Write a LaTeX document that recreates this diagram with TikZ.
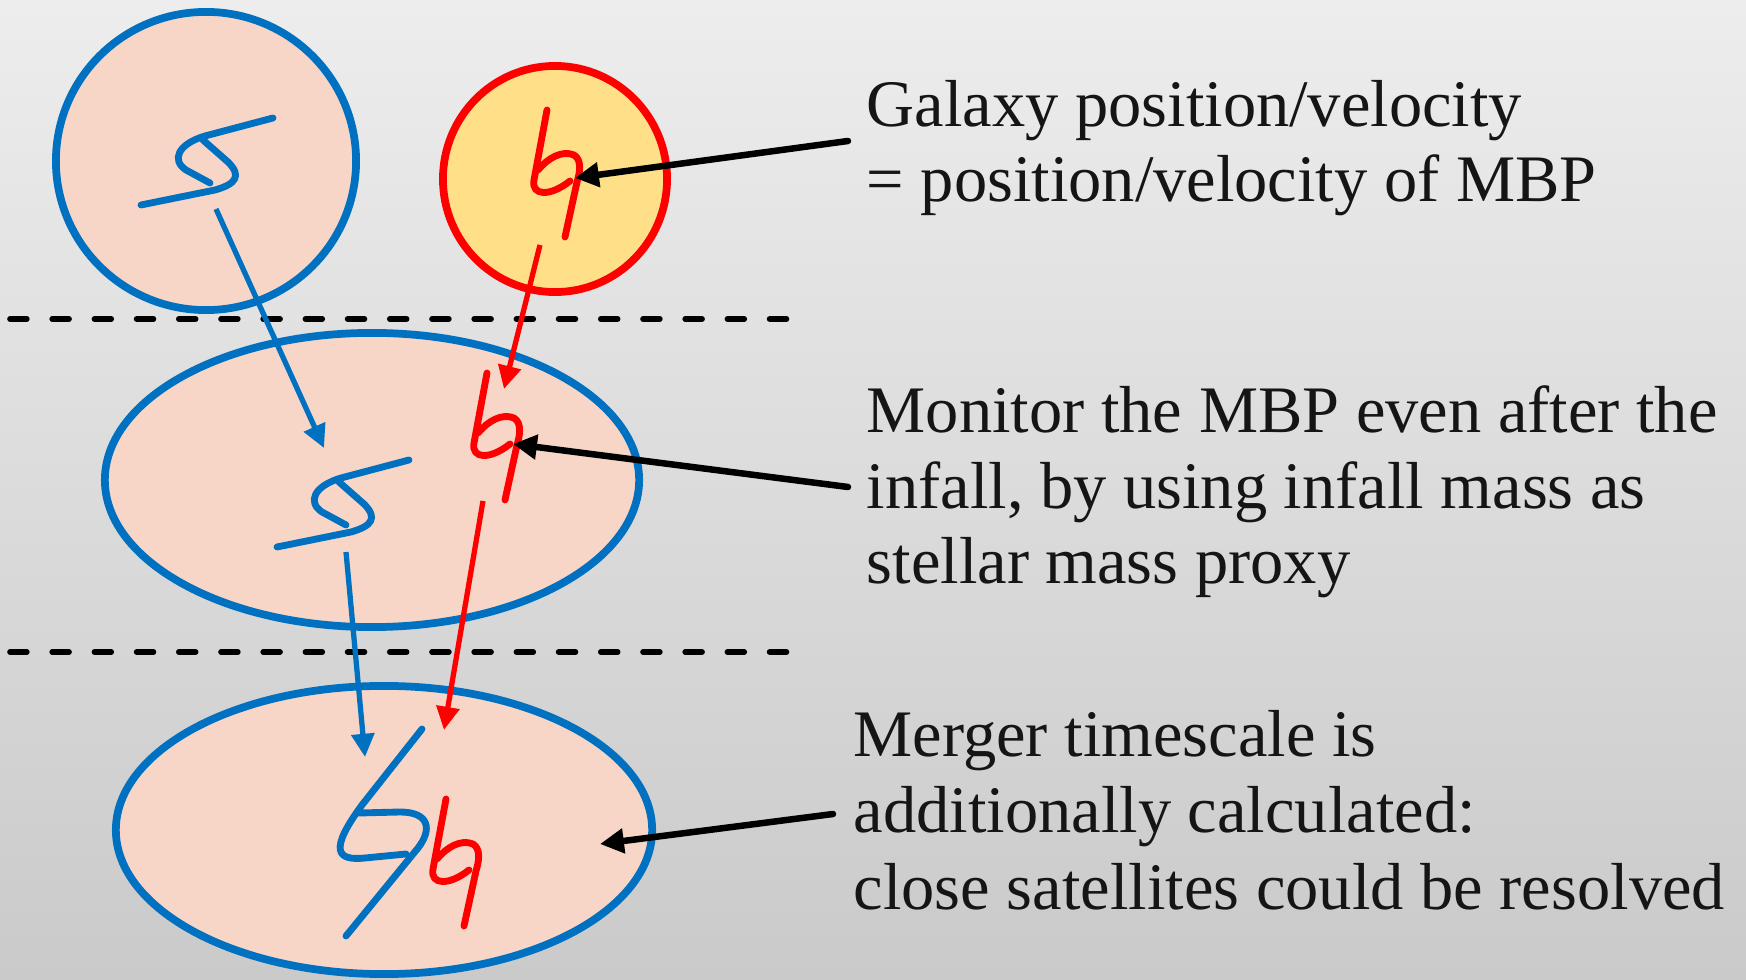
\documentclass[tikz,border=0pt]{standalone}
\usepackage{fontspec}
\setmainfont{Liberation Serif}
\usetikzlibrary{arrows.meta,shapes.geometric}

\definecolor{haloblue}{HTML}{0070C0}
\definecolor{mbpred}{HTML}{FF0000}
\definecolor{halofill}{HTML}{F7D6C8}
\definecolor{galfill}{HTML}{FFE088}
\definecolor{bgtop}{HTML}{EDEDED}
\definecolor{bgbot}{HTML}{CACACA}
\definecolor{ink}{HTML}{151515}

\tikzset{
  halo/.style={ellipse, draw=haloblue, fill=halofill, line width=2.2pt, inner sep=0pt},
  galaxy/.style={ellipse, draw=mbpred, fill=galfill, line width=2.2pt, inner sep=0pt},
  stroke/.style={line width=1.95pt, line cap=round, line join=round},
  bluestroke/.style={stroke, draw=haloblue},
  redstroke/.style={stroke, draw=mbpred},
  blueflow/.style={draw=haloblue, line width=1.5pt, -{Triangle[length=6.6pt,width=6.4pt]}},
  redflow/.style={draw=mbpred, line width=1.5pt, -{Triangle[length=6.6pt,width=6.4pt]}},
  pointer/.style={draw=black, line width=1.85pt, line cap=round, -{Triangle[length=6.8pt,width=6.8pt]}},
  epoch/.style={draw=black, line width=1.6pt, line cap=round, dash pattern=on 4.8pt off 7.2pt},
  txt/.style={anchor=base west, inner sep=0pt, text=ink, font=\fontsize{18.9pt}{22pt}\selectfont},
  % subhalo tracer glyph (blue)
  sglyph/.pic={
    \draw[bluestroke] (67,-43) -- (-1,-25) .. controls (-28,-17) and (-35,-1) .. (-20,9) -- (4,22);
    \draw[bluestroke] (-3,-21) -- (22,1) .. controls (36,15) and (30,23) .. (9,29) -- (-65,44);
  },
  % most-bound-particle glyph (red)
  bglyph/.pic={
    \draw[redstroke] (-8,-69) -- (-21,1) .. controls (-24,17) and (-5,18) .. (15,2);
    \draw[redstroke] (-17,-9) .. controls (-7,-21) and (7,-29) .. (19,-24)
      .. controls (27,-19) and (25,-7) .. (22,3) -- (10,58);
  }
}

\begin{document}
\begin{tikzpicture}[x=0.01cm, y=-0.01cm]
  % canvas
  \useasboundingbox (0,0) rectangle (1746,980);
  \shade[top color=bgtop, bottom color=bgbot] (0,0) rectangle (1746,980);

  % epoch separators
  \coordinate (d1a) at (10,319);
  \coordinate (d1b) at (798,319);
  \coordinate (d2a) at (10,652);
  \coordinate (d2b) at (798,652);
  \draw[epoch] (d1a) -- (d1b);
  \draw[epoch] (d2a) -- (d2b);

  % haloes
  \node[halo, minimum width=3.00cm, minimum height=2.98cm] (hA) at (206,161) {};
  \node[galaxy, minimum width=2.24cm, minimum height=2.26cm] (gB) at (555,179) {};
  \node[halo, minimum width=5.34cm, minimum height=2.94cm] (hC) at (372,480) {};
  \node[halo, minimum width=5.36cm, minimum height=2.88cm] (hD) at (384,830) {};

  % tracers
  \pic (sA) at (206,161) {sglyph};
  \pic (bB) at (555,179) {bglyph};
  \pic (sC) at (342,503) {sglyph};
  \pic (bC) at (495,442) {bglyph};
  \pic (bD) at (454,868) {bglyph};
  \draw[bluestroke] (422,729) -- (362,805) .. controls (329,850) and (336,861) .. (365,858) -- (406,854);
  \draw[bluestroke] (359,813) -- (400,812) .. controls (430,812) and (432,830) .. (418,848) -- (346,936);

  % flow from one epoch to the next
  \coordinate (fA) at (216,209);
  \coordinate (tA) at (324,448);
  \coordinate (fB) at (540,245);
  \coordinate (tB) at (504,389);
  \coordinate (fC) at (346,552);
  \coordinate (tC) at (365,757);
  \coordinate (fR) at (483,501);
  \coordinate (tR) at (444,730);
  \draw[blueflow] (fA) -- (tA);
  \draw[redflow] (fB) -- (tB);
  \draw[blueflow] (fC) -- (tC);
  \draw[redflow] (fR) -- (tR);

  % notes
  \node[txt] (n1a) at (866,127) {Galaxy position/velocity};
  \node[txt] (n1b) at (866,202) {= position/velocity of MBP};
  \node[txt] (n2a) at (866,433) {Monitor the MBP even after the};
  \node[txt] (n2b) at (866,509) {infall, by using infall mass as};
  \node[txt] (n2c) at (866,584) {stellar mass proxy};
  \node[txt] (n3a) at (853,757) {Merger timescale is};
  \node[txt] (n3b) at (853,833) {additionally calculated:};
  \node[txt] (n3c) at (853,909) {close satellites could be resolved};

  % pointers from notes
  \coordinate (p1) at (848,141);
  \coordinate (q1) at (575,178);
  \coordinate (p2) at (848,487);
  \coordinate (q2) at (513,444);
  \coordinate (p3) at (833,814);
  \coordinate (q3) at (600,844);
  \draw[pointer] (p1) -- (q1);
  \draw[pointer] (p2) -- (q2);
  \draw[pointer] (p3) -- (q3);
\end{tikzpicture}
\end{document}
